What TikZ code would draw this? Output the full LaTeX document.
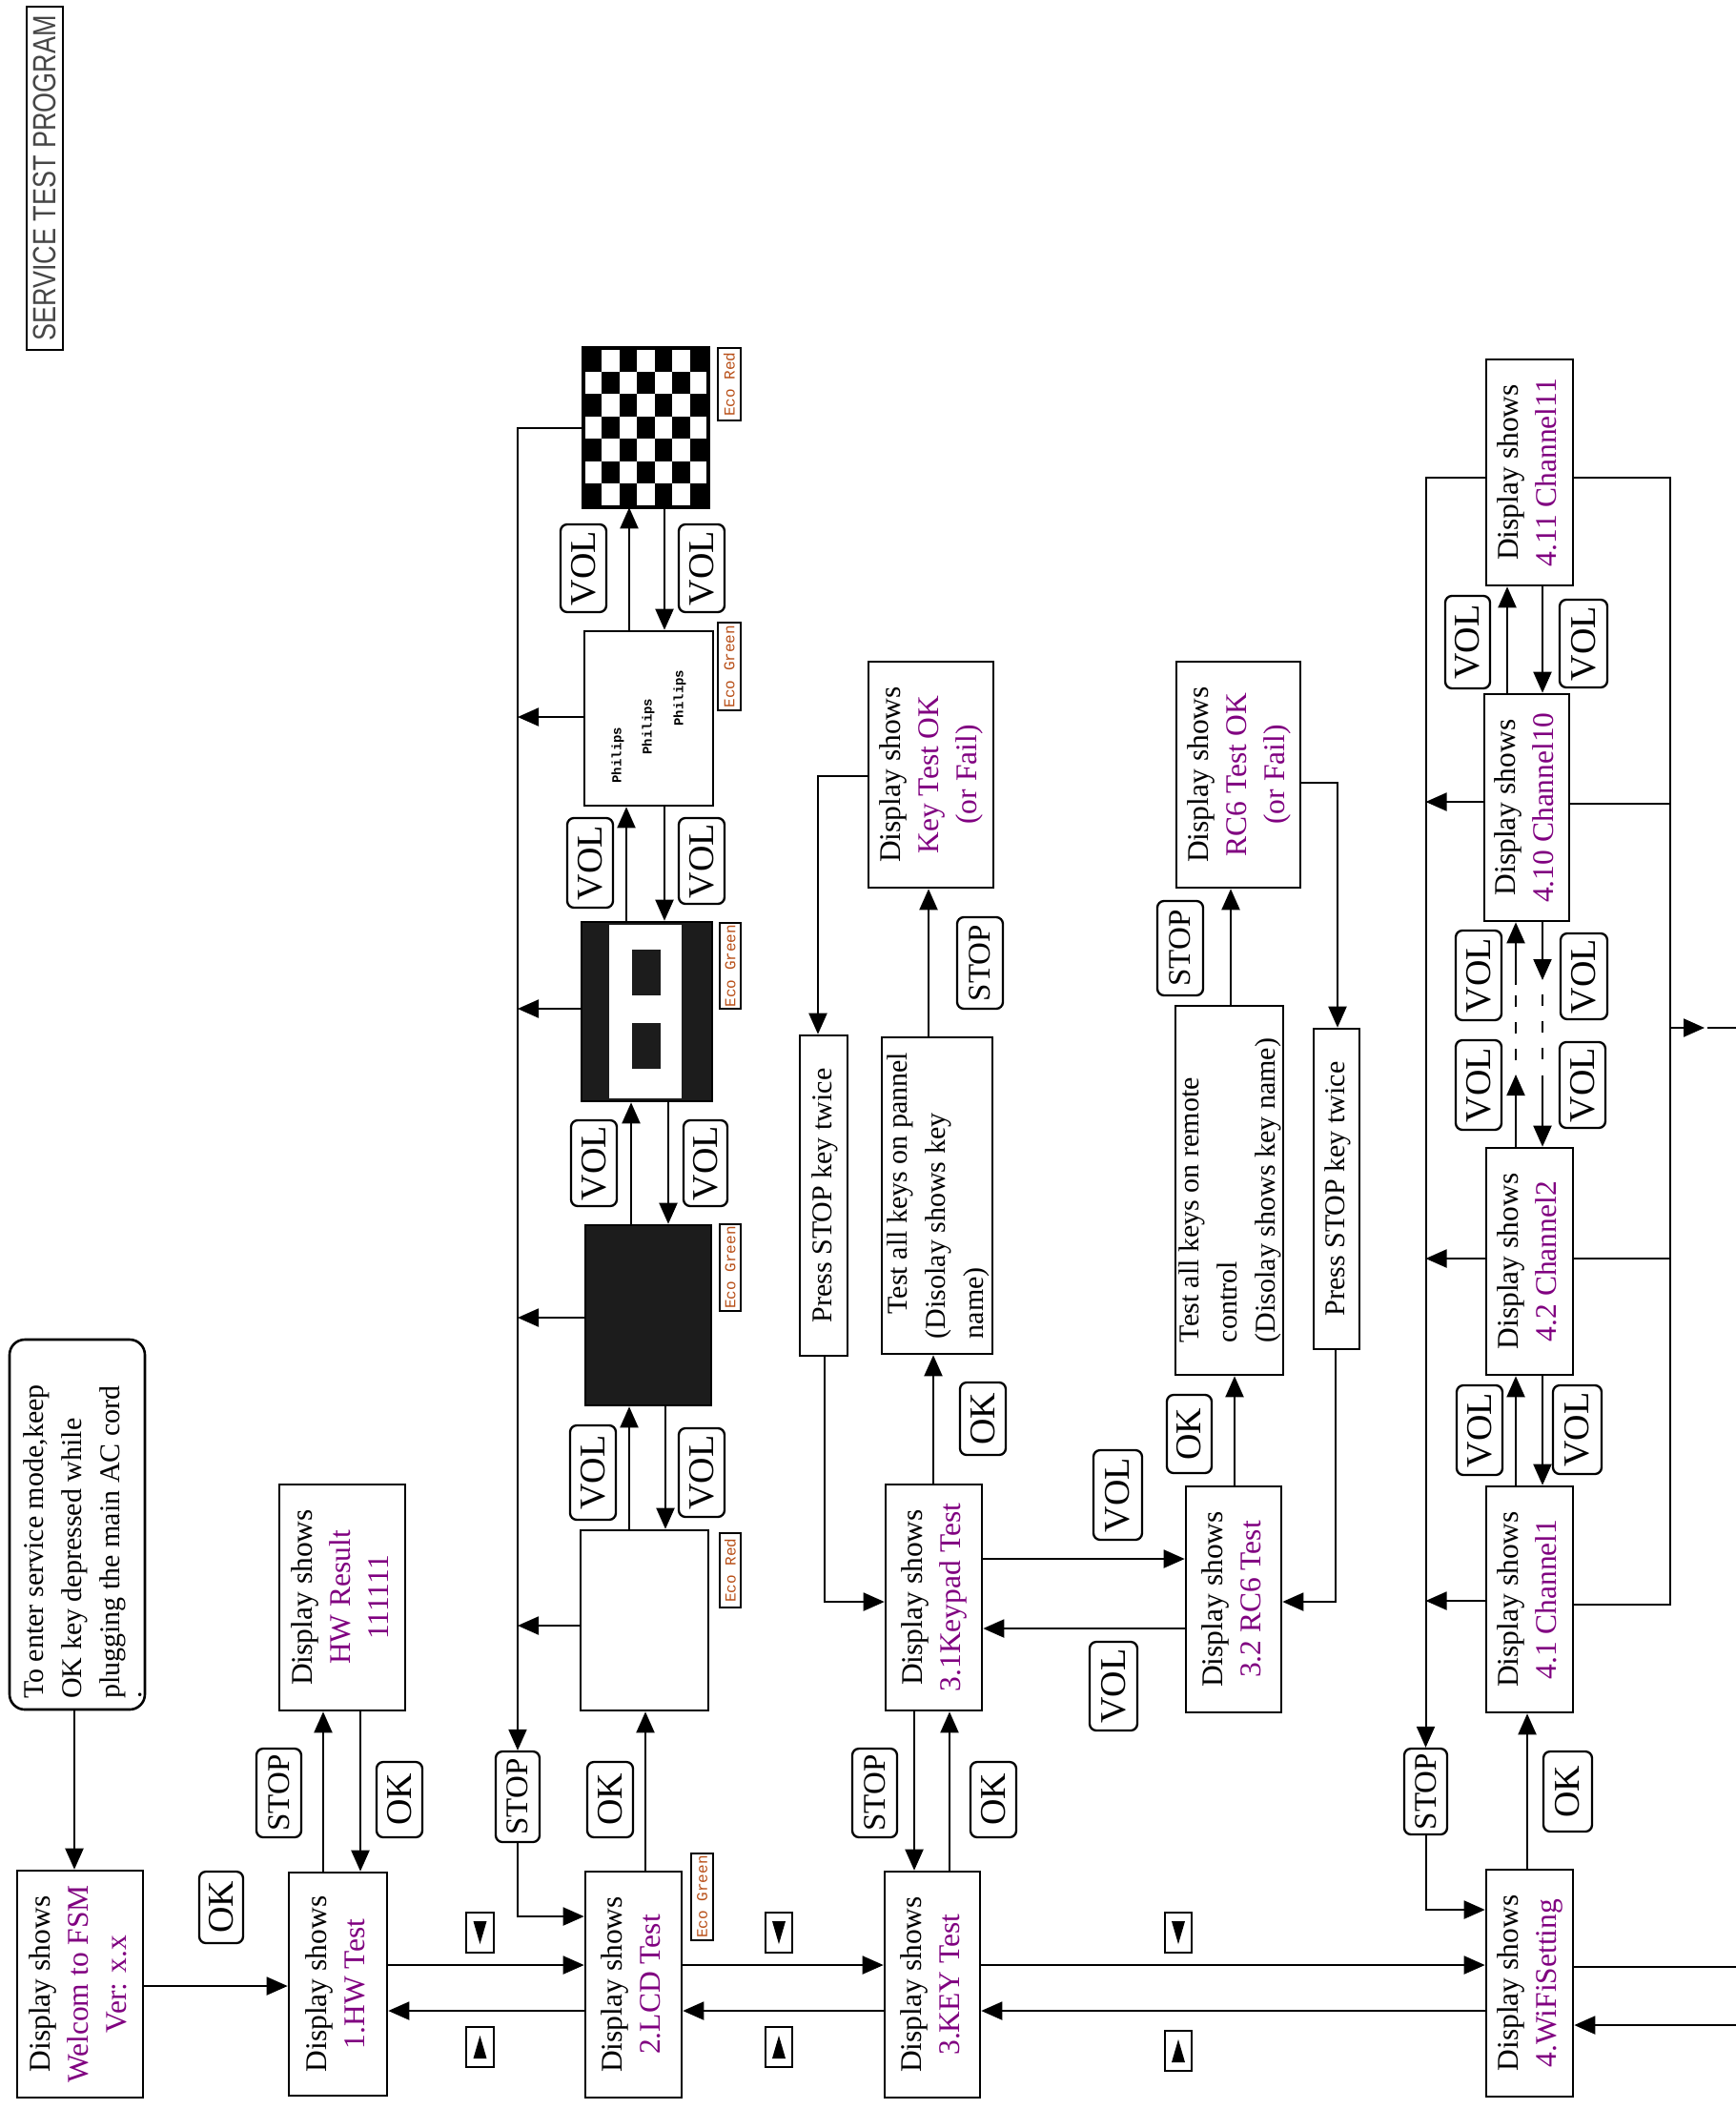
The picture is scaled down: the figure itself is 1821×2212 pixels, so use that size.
\documentclass[tikz,border=0pt]{standalone}
\usepackage{fontspec}
\setmainfont{Liberation Serif}
\newfontfamily\titlefont{Liberation Sans}
\newfontfamily\ecofont{Liberation Mono}
\usetikzlibrary{arrows.meta,calc}
\definecolor{fsmpurple}{RGB}{128,0,128}
\definecolor{ecobrown}{RGB}{184,78,22}
\definecolor{scrblack}{RGB}{28,28,28}
\definecolor{titlegray}{RGB}{70,70,70}
\newcommand\vtext[1]{\rotatebox{90}{\begin{tabular}{@{}c@{}}#1\end{tabular}}}
\newcommand\vtextl[1]{\rotatebox{90}{\begin{tabular}{@{}l@{}}#1\end{tabular}}}
\newcommand\pu[1]{\textcolor{fsmpurple}{#1}}
\newcommand\vlab[1]{\rotatebox{90}{#1}}
\begin{document}
\begin{tikzpicture}[x=1pt,y=-1pt,
  rect/.style n args={4}{minimum width={#3-#1}, minimum height={#4-#2}, at={({(#1+#3)/2},{(#2+#4)/2})}},
  box/.style={draw, line width=2.6pt, inner sep=0pt, font=\fontsize{31.5}{40}\selectfont},
  smalltext/.style={font=\fontsize{30}{40}\selectfont},
  keylab/.style={draw, rounded corners=7pt, line width=2.3pt, inner sep=0pt, font=\fontsize{38}{40}\selectfont},
  stoplab/.style={keylab, font=\fontsize{33}{40}\selectfont},
  ecolab/.style={draw, line width=2pt, inner sep=0pt, text=ecobrown, font=\ecofont\fontsize{16}{18}\selectfont},
  trilab/.style={draw, line width=2pt, inner sep=0pt},
  screen/.style={draw, line width=2.6pt, inner sep=0pt},
  phtext/.style={font=\ecofont\bfseries\fontsize{14}{16}\selectfont, rotate=90, inner sep=0pt},
  arr/.style={line width=2pt, -{Triangle[length=22pt,width=19pt]}},
  con/.style={line width=2pt},
  dsh/.style={line width=2pt, dash pattern=on 12pt off 16pt}]
\useasboundingbox[fill=white] (0,0) rectangle (1821,2212);

% title
\node[draw, line width=2pt, inner sep=0pt, rect={28}{7}{66}{367}, text=titlegray,
  font=\titlefont\fontsize{27}{30}\selectfont] (title) {\rotatebox{90}{\scalebox{1}[1.25]{SERVICE TEST PROGRAM}}};

% main boxes
\node[box, smalltext, rounded corners=16pt, rect={10}{1405}{152}{1793}] (note) {\makebox[130pt]{\hspace*{17pt}\vtextl{To enter service mode,keep\hspace*{36pt}\\OK key depressed while\\plugging the main AC cord\\[-17pt].}}};
\node[box, rect={18}{1962}{150}{2200}] (fsm) {\vtext{Display shows\\\pu{Welcom to FSM}\\\pu{Ver: x.x}}};
\node[box, rect={303}{1964}{406}{2198}] (hw) {\vtext{Display shows\\\pu{1.HW Test}}};
\node[box, rect={293}{1557}{425}{1794}] (hwr) {\vtext{Display shows\\\pu{HW Result}\\\pu{111111}}};
\node[box, rect={614}{1963}{715}{2200}] (lcd) {\vtext{Display shows\\\pu{2.LCD Test}}};
\node[box, rect={928}{1963}{1028}{2200}] (key) {\vtext{Display shows\\\pu{3.KEY Test}}};
\node[box, rect={1559}{1961}{1650}{2199}] (wifi) {\vtext{Display shows\\\pu{4.WiFiSetting}}};
\node[box, rect={929}{1557}{1030}{1794}] (keypad) {\vtext{Display shows\\\pu{3.1Keypad Test}}};
\node[box, smalltext, rect={925}{1088}{1041}{1420}] (panel) {\makebox[110pt]{\vtextl{\hspace*{26pt}Test all keys on pannel\\(Disolay shows key\\name)}}};
\node[box, rect={911}{694}{1042}{931}] (keyok) {\vtext{Display shows\\\pu{Key Test OK}\\\pu{(or Fail)}}};
\node[box, smalltext, rect={839}{1086}{889}{1422}] (press1) {\vtext{Press STOP key twice}};
\node[box, rect={1244}{1559}{1344}{1796}] (rc6) {\vtext{Display shows\\\pu{3.2 RC6 Test}}};
\node[box, smalltext, rect={1233}{1055}{1346}{1442}] (remote) {\makebox[108pt]{\vtextl{Test all keys on remote\\control\\(Disolay shows key name)}}};
\node[box, rect={1234}{694}{1364}{931}] (rc6ok) {\vtext{Display shows\\\pu{RC6 Test OK}\\\pu{(or Fail)}}};
\node[box, smalltext, rect={1378}{1079}{1426}{1415}] (press2) {\vtext{Press STOP key twice}};
\node[box, rect={1559}{1559}{1650}{1796}] (ch1) {\vtext{Display shows\\\pu{4.1 Channel1}}};
\node[box, rect={1559}{1204}{1650}{1442}] (ch2) {\vtext{Display shows\\\pu{4.2 Channel2}}};
\node[box, rect={1557}{728}{1646}{966}] (ch10) {\vtext{Display shows\\\pu{4.10 Channel10}}};
\node[box, rect={1559}{377}{1650}{614}] (ch11) {\vtext{Display shows\\\pu{4.11 Channel11}}};

% screens
\node[screen, fill=white, rect={609}{1605}{743}{1794}] (white) {};
\node[screen, fill=scrblack, rect={614}{1285}{746}{1474}] (black) {};
\node[screen, fill=scrblack, rect={610}{967}{747}{1155}] (bars) {};
\fill[white] (639,970) rectangle (715,1152);
\fill[scrblack] (663,996) rectangle (693,1044);
\fill[scrblack] (663,1073) rectangle (693,1121);
\node[screen, fill=white, rect={613}{662}{748}{845}] (philips) {};
\node[phtext] (ph1) at (648,792) {Philips};
\node[phtext] (ph2) at (680,762) {Philips};
\node[phtext] (ph3) at (713,732) {Philips};
\node[screen, fill=white, rect={613}{366}{742}{531}] (checker) {};
\foreach \i in {0,...,6}{\foreach \j in {0,...,6}{%
  \pgfmathtruncatemacro\cellpar{mod(\i+\j,2)}%
  \ifnum\cellpar=0 \fill[black] ({613+\i*18.43},{366+\j*23.57}) rectangle ++(18.43,23.57);\fi}}
\draw[line width=2.6pt] (checker.north west) rectangle (checker.south east);

% eco labels
\node[ecolab, rect={725}{1944}{748}{2035}] (ecolcd) {\rotatebox{90}{Eco Green}};
\node[ecolab, rect={755}{1608}{777}{1686}] (ecow) {\rotatebox{90}{Eco Red}};
\node[ecolab, rect={755}{1284}{777}{1375}] (ecob) {\rotatebox{90}{Eco Green}};
\node[ecolab, rect={755}{968}{777}{1058}] (ecobars) {\rotatebox{90}{Eco Green}};
\node[ecolab, rect={753}{653}{777}{745}] (ecop) {\rotatebox{90}{Eco Green}};
\node[ecolab, rect={753}{365}{777}{441}] (ecoc) {\rotatebox{90}{Eco Red}};

% key labels
\node[keylab, rect={209}{1963}{255}{2038}] (okFSM) {\vlab{OK}};
\node[stoplab, rect={269}{1834}{316}{1927}] (stopHW) {\vlab{STOP}};
\node[keylab, rect={395}{1848}{443}{1927}] (okHW) {\vlab{OK}};
\node[stoplab, rect={520}{1837}{566}{1932}] (stopLCD) {\vlab{STOP}};
\node[keylab, rect={616}{1848}{664}{1927}] (okLCD) {\vlab{OK}};
\node[stoplab, rect={894}{1834}{941}{1927}] (stopKEY) {\vlab{STOP}};
\node[keylab, rect={1018}{1848}{1066}{1927}] (okKEY) {\vlab{OK}};
\node[keylab, rect={1007}{1450}{1055}{1526}] (okKP) {\vlab{OK}};
\node[stoplab, rect={1004}{962}{1052}{1058}] (stopKP) {\vlab{STOP}};
\node[keylab, rect={1147}{1521}{1198}{1615}] (volKR1) {\vlab{VOL}};
\node[keylab, rect={1143}{1722}{1193}{1815}] (volKR2) {\vlab{VOL}};
\node[keylab, rect={1224}{1463}{1271}{1545}] (okRC) {\vlab{OK}};
\node[stoplab, rect={1214}{945}{1262}{1044}] (stopRC) {\vlab{STOP}};
\node[keylab, rect={1619}{1837}{1670}{1921}] (okWF) {\vlab{OK}};
\node[stoplab, rect={1473}{1834}{1518}{1924}] (stopWF) {\vlab{STOP}};
\node[keylab, rect={598}{1495}{646}{1594}] (v1L) {\vlab{VOL}};
\node[keylab, rect={712}{1498}{760}{1591}] (v1R) {\vlab{VOL}};
\node[keylab, rect={599}{1175}{647}{1265}] (v2L) {\vlab{VOL}};
\node[keylab, rect={717}{1175}{763}{1265}] (v2R) {\vlab{VOL}};
\node[keylab, rect={595}{858}{643}{952}] (v3L) {\vlab{VOL}};
\node[keylab, rect={712}{858}{760}{948}] (v3R) {\vlab{VOL}};
\node[keylab, rect={588}{550}{636}{642}] (v4L) {\vlab{VOL}};
\node[keylab, rect={712}{550}{760}{642}] (v4R) {\vlab{VOL}};
\node[keylab, rect={1528}{1453}{1576}{1547}] (c1L) {\vlab{VOL}};
\node[keylab, rect={1629}{1453}{1680}{1546}] (c1R) {\vlab{VOL}};
\node[keylab, rect={1527}{976}{1575}{1070}] (c2La) {\vlab{VOL}};
\node[keylab, rect={1527}{1091}{1575}{1185}] (c2Lb) {\vlab{VOL}};
\node[keylab, rect={1637}{979}{1686}{1069}] (c2Ra) {\vlab{VOL}};
\node[keylab, rect={1636}{1093}{1684}{1183}] (c2Rb) {\vlab{VOL}};
\node[keylab, rect={1516}{625}{1563}{722}] (c3L) {\vlab{VOL}};
\node[keylab, rect={1636}{629}{1686}{721}] (c3R) {\vlab{VOL}};

% triangle labels
\node[trilab, rect={489}{2006}{518}{2048}] (dn1) {};
\node[trilab, rect={489}{2126}{518}{2168}] (up1) {};
\node[trilab, rect={803}{2006}{831}{2048}] (dn2) {};
\node[trilab, rect={803}{2126}{831}{2168}] (up2) {};
\node[trilab, rect={1222}{2006}{1250}{2048}] (dn3) {};
\node[trilab, rect={1222}{2130}{1250}{2172}] (up3) {};
\foreach \n in {dn1,dn2,dn3}{\fill (\n.center) ++(-7,-12) -- ++(14,0) -- ++(-7,24) -- cycle;}
\foreach \n in {up1,up2,up3}{\fill (\n.center) ++(-7,12) -- ++(14,0) -- ++(-7,-24) -- cycle;}

% connectors: main row
\draw[arr] (note.south -| 78,0) -- (fsm.north -| 78,0);
\draw[arr] (fsm.east |- 0,2083) -- (hw.west |- 0,2083);
\draw[arr] (hw.north -| 339,0) -- (hwr.south -| 339,0);
\draw[arr] (hwr.south -| 378,0) -- (hw.north -| 378,0);
\draw[arr] (hw.east |- 0,2061) -- (lcd.west |- 0,2061);
\draw[arr] (lcd.west |- 0,2109) -- (hw.east |- 0,2109);
\draw[arr] (lcd.east |- 0,2061) -- (key.west |- 0,2061);
\draw[arr] (key.west |- 0,2109) -- (lcd.east |- 0,2109);
\draw[arr] (key.east |- 0,2061) -- (wifi.west |- 0,2061);
\draw[arr] (wifi.west |- 0,2109) -- (key.east |- 0,2109);
\coordinate (wOut) at (1821,2063);
\coordinate (wIn) at (1821,2124);
\draw[con] (wifi.east |- wOut) -- (wOut);
\draw[arr] (wIn) -- (wifi.east |- wIn);

% LCD column
\draw[arr] (lcd.north -| 677,0) -- (white.south -| 677,0);
\draw[arr] (white.north -| 660,0) -- (black.south -| 660,0);
\draw[arr] (black.south -| 698,0) -- (white.north -| 698,0);
\draw[arr] (black.north -| 662,0) -- (bars.south -| 662,0);
\draw[arr] (bars.south -| 701,0) -- (black.north -| 701,0);
\draw[arr] (bars.north -| 657,0) -- (philips.south -| 657,0);
\draw[arr] (philips.south -| 697,0) -- (bars.north -| 697,0);
\draw[arr] (philips.north -| 660,0) -- (checker.south -| 660,0);
\draw[arr] (checker.south -| 697,0) -- (philips.north -| 697,0);
\draw[arr] (checker.west |- 0,449) -| (stopLCD.north);
\draw[arr] (philips.west |- 0,752) -- (stopLCD.north |- 0,752);
\draw[arr] (bars.west |- 0,1058) -- (stopLCD.north |- 0,1058);
\draw[arr] (black.west |- 0,1382) -- (stopLCD.north |- 0,1382);
\draw[arr] (white.west |- 0,1705) -- (stopLCD.north |- 0,1705);
\draw[arr] (stopLCD.south) |- (lcd.west |- 0,2010);

% KEY column
\draw[arr] (keypad.south -| 959,0) -- (key.north -| 959,0);
\draw[arr] (key.north -| 996,0) -- (keypad.south -| 996,0);
\draw[arr] (keypad.north -| 979,0) -- (panel.south -| 979,0);
\draw[arr] (panel.north -| 974,0) -- (keyok.south -| 974,0);
\draw[arr] (keyok.west |- 0,814) -| (press1.north -| 858,0);
\draw[arr] (press1.south -| 865,0) |- (keypad.west |- 0,1680);
\draw[arr] (keypad.east |- 0,1635) -- (rc6.west |- 0,1635);
\draw[arr] (rc6.west |- 0,1708) -- (keypad.east |- 0,1708);
\draw[arr] (rc6.north -| 1295,0) -- (remote.south -| 1295,0);
\draw[arr] (remote.north -| 1291,0) -- (rc6ok.south -| 1291,0);
\draw[arr] (rc6ok.east |- 0,821) -| (press2.north -| 1403,0);
\draw[arr] (press2.south -| 1401,0) |- (rc6.east |- 0,1680);

% WiFi column
\draw[arr] (wifi.north -| 1602,0) -- (ch1.south -| 1602,0);
\draw[arr] (ch11.west |- 0,501) -| (stopWF.north);
\draw[arr] (ch10.west |- 0,841) -- (stopWF.north |- 0,841);
\draw[arr] (ch2.west |- 0,1320) -- (stopWF.north |- 0,1320);
\draw[arr] (ch1.west |- 0,1679) -- (stopWF.north |- 0,1679);
\draw[arr] (stopWF.south) |- (wifi.west |- 0,2003);
\coordinate (busRtop) at (1752,501);
\coordinate (busRbot) at (1752,1683);
\draw[con, line width=2.6pt] (ch11.east |- busRtop) -- (busRtop) -- (busRbot) -- (ch1.east |- busRbot);
\draw[con] (ch10.east |- 0,843) -- (busRtop |- 0,843);
\draw[con] (ch2.east |- 0,1320) -- (busRtop |- 0,1320);
\coordinate (outTip) at (1788,1078);
\coordinate (outEdge) at (1821,1078);
\draw[arr] (busRtop |- outTip) -- (outTip);
\draw[con] ([xshift=3pt]outTip) -- (outEdge);

% channel VOL arrows
\draw[arr] (ch1.north -| 1590,0) -- (ch2.south -| 1590,0);
\draw[arr] (ch2.south -| 1618,0) -- (ch1.north -| 1618,0);
\coordinate (uA) at (1590,1127);
\coordinate (uB) at (1590,1112);
\coordinate (uC) at (1590,1043);
\coordinate (uD) at (1590,1033);
\draw[arr] (ch2.north -| uA) -- (uA);
\draw[dsh] (uB) -- (uC);
\draw[arr] (uD) -- (ch10.south -| uD);
\coordinate (dA) at (1618,1028);
\coordinate (dB) at (1618,1043);
\coordinate (dC) at (1618,1112);
\coordinate (dD) at (1618,1128);
\draw[arr] (ch10.south -| dA) -- (dA);
\draw[dsh] (dB) -- (dC);
\draw[arr] (dD) -- (ch2.north -| dD);
\draw[arr] (ch10.north -| 1581,0) -- (ch11.south -| 1581,0);
\draw[arr] (ch11.south -| 1618,0) -- (ch10.north -| 1618,0);
\end{tikzpicture}
\end{document}
